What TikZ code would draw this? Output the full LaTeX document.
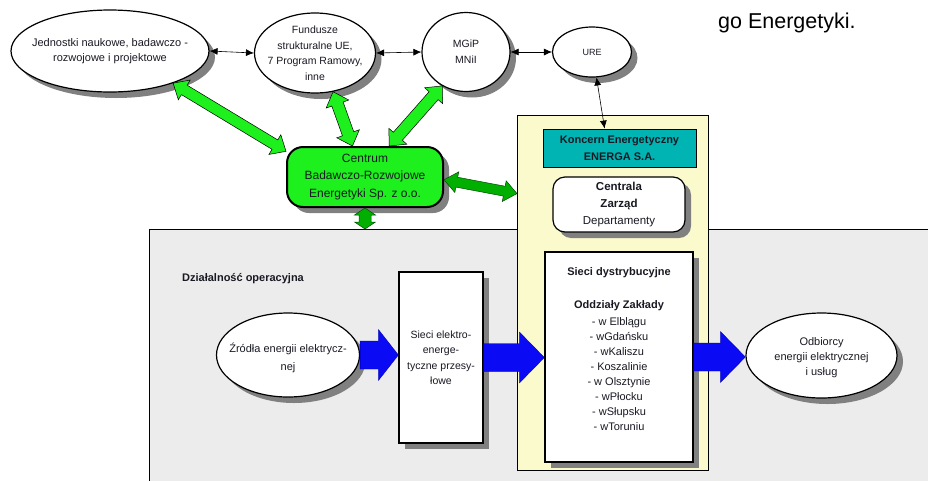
\documentclass[tikz,border=0pt]{standalone}
\usepackage{fontspec}
\setmainfont{Liberation Sans}
\usetikzlibrary{shapes.geometric,shadows,calc,arrows.meta}
\definecolor{txt}{RGB}{25,25,35}
\definecolor{brightgreen}{RGB}{30,240,30}
\definecolor{darkgr}{RGB}{0,175,0}
\definecolor{tealc}{RGB}{0,180,180}
\definecolor{yellowc}{RGB}{250,250,205}
\definecolor{greyarea}{RGB}{236,236,236}
\definecolor{bluec}{RGB}{10,10,245}
% double-headed fat arrow: A, B, head length, head half-width, shaft half-width, style
\newcommand\fatdbl[6]{%
 \coordinate (tmpA) at ($(#1)!#3!(#2)$);
 \coordinate (tmpB) at ($(#2)!#3!(#1)$);
 \path[#6] (#1) -- ($(tmpA)!#4!90:(#2)$) -- ($(tmpA)!#5!90:(#2)$) -- ($(tmpB)!#5!-90:(#1)$) -- ($(tmpB)!#4!-90:(#1)$) -- (#2) -- ($(tmpB)!#4!90:(#1)$) -- ($(tmpB)!#5!90:(#1)$) -- ($(tmpA)!#5!-90:(#2)$) -- ($(tmpA)!#4!-90:(#2)$) -- cycle;}
% single fat arrow: tail A, tip B, head length, head half-width, shaft half-width, style
\newcommand\fatone[6]{%
 \coordinate (tmpB) at ($(#2)!#3!(#1)$);
 \path[#6] ($(#1)!#5!90:(#2)$) -- ($(tmpB)!#5!-90:(#1)$) -- ($(tmpB)!#4!-90:(#1)$) -- (#2) -- ($(tmpB)!#4!90:(#1)$) -- ($(tmpB)!#5!90:(#1)$) -- ($(#1)!#5!-90:(#2)$) -- cycle;}
\begin{document}
\begin{tikzpicture}[x=1pt,y=-1pt,
 every node/.style={text=txt, font=\fontsize{11}{15}\selectfont, inner sep=0pt, align=center},
 shad/.style={drop shadow={shadow xshift=6pt, shadow yshift=-6pt, fill=black!50, opacity=1}},
 ell/.style={ellipse, draw=black, line width=1.2pt, fill=white, shad},
 box/.style={rectangle, draw=black, line width=1.2pt, fill=white, shad},
 thinarr/.style={{Latex[length=8pt,width=7pt]}-{Latex[length=8pt,width=7pt]}, line width=0.6pt, black},
 greenarr/.style={fill=brightgreen, draw=black, line width=0.5pt},
 dgreenarr/.style={fill=darkgr, draw=black!70!green, line width=0.5pt},
 bluearr/.style={fill=bluec, draw=blue!60!black, line width=0.3pt}]
\useasboundingbox (0,0) rectangle (928,480);

% operational area and ENERGA frame
\node[draw=black, line width=1.3pt, fill=greyarea, anchor=north west, minimum width=800, minimum height=270] (oper) at (149,229) {};
\node[draw=black, line width=1.3pt, fill=yellowc, anchor=north west, minimum width=191, minimum height=355] (energa) at (517,115) {};

% top row
\node[ell, minimum width=198, minimum height=82] (jed) at (110,51) {};
\node (jedT) at (jed.center) {Jednostki naukowe, badawczo -\\rozwojowe i projektowe};
\node[ell, minimum width=121, minimum height=80] (fun) at (315,53) {};
\node[font=\fontsize{10.5}{15.5}\selectfont] (funT) at (fun.center) {Fundusze\\strukturalne UE,\\7 Program Ramowy,\\inne};
\node[ell, minimum width=88, minimum height=79] (mgip) at (466,52) {};
\node[font=\fontsize{10.5}{16}\selectfont] (mgipT) at (mgip.center) {MGiP\\MNiI};
\node[ell, minimum width=79, minimum height=50] (ure) at (592,52) {};
\node[font=\fontsize{9}{12}\selectfont] (ureT) at (ure.center) {URE};
\node[anchor=base west, font=\fontsize{21.5}{24}\selectfont, text=black] (goe) at (718,28) {go Energetyki.};

% centre
\node[draw=black, line width=2pt, fill=brightgreen, rounded corners=16pt, minimum width=156, minimum height=60, shad, font=\fontsize{12}{17.5}\selectfont] (centrum) at (365,177) {Centrum\\Badawczo-Rozwojowe\\Energetyki Sp. z o.o.};

\node[draw=black, line width=0.8pt, fill=tealc, minimum width=153, minimum height=38, font=\fontsize{11}{17}\selectfont\bfseries] (koncern) at (619.5,148) {Koncern Energetyczny\\ENERGA S.A.};
\node[box, rounded corners=12pt, minimum width=132, minimum height=55, font=\fontsize{11.5}{17}\selectfont] (centrala) at (619,204.5) {\textbf{Centrala}\\\textbf{Zarząd}\\Departamenty};

% operational row
\node[anchor=west, font=\fontsize{11}{15}\selectfont\bfseries] (dzial) at (182,279) {Działalność operacyjna};
\node[ell, minimum width=143, minimum height=84] (zrodla) at (288,355) {};
\node[font=\fontsize{11}{18}\selectfont] (zrodlaT) at ($(zrodla.center)+(0,3)$) {Źródła energii elektrycz-\\nej};
\node[box, minimum width=84, minimum height=171, font=\fontsize{10.5}{15.5}\selectfont] (przesyl) at (441,357.5) {Sieci elektro-\\energe-\\tyczne przesy-\\łowe};
\node[box, minimum width=148, minimum height=210] (dystr) at (619,357) {};
\node[font=\fontsize{11}{15}\selectfont] (dystrtxt) at (619,349.5) {\textbf{Sieci dystrybucyjne}\\[18pt]\textbf{Oddziały Zakłady}\\[2pt]- w Elblągu\\- wGdańsku\\- wKaliszu\\- Koszalinie\\- w Olsztynie\\- wPłocku\\- wSłupsku\\- wToruniu};
\node[ell, minimum width=151, minimum height=85] (odb) at (821.5,355.5) {};
\node (odbT) at ($(odb.center)+(0,2.5)$) {Odbiorcy\\energii elektrycznej\\i usług};

% thin connectors
\draw[thinarr] (jed.east) -- (fun.west);
\draw[thinarr] (fun.east) -- (mgip.west);
\draw[thinarr] (mgip.east) -- (ure.west);
\coordinate (kn) at ($(koncern.north west)+(62,0)$);
\draw[thinarr] (ure.-80) -- (kn);

% green fat arrows
\fatdbl{jed.-27}{centrum.162}{13pt}{11.5pt}{5.5pt}{greenarr}
\fatdbl{fun.-65}{centrum.112}{13pt}{12pt}{6pt}{greenarr}
\fatdbl{mgip.-125}{centrum.52}{13pt}{12pt}{6pt}{greenarr}
\fatdbl{centrum.-2}{energa.134}{13pt}{10.5pt}{5pt}{dgreenarr}
\coordinate (opTop) at (centrum.south |- oper.north);
\fatdbl{centrum.south}{opTop}{7pt}{10.5pt}{6pt}{dgreenarr}

% blue fat arrows
\fatone{zrodla.east}{zrodla.east -| przesyl.west}{20pt}{25.5pt}{14pt}{bluearr}
\fatone{przesyl.east}{przesyl.east -| dystr.west}{25pt}{25.5pt}{14pt}{bluearr}
\fatone{dystr.east}{dystr.east -| odb.west}{25pt}{25.5pt}{14pt}{bluearr}
\end{tikzpicture}
\end{document}
